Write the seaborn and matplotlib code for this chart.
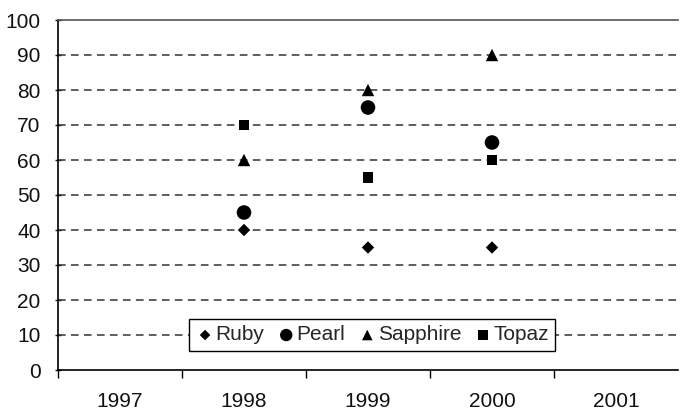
import matplotlib
matplotlib.use("Agg")
import matplotlib.pyplot as plt
import pandas as pd
import seaborn as sns

years = ["1997", "1998", "1999", "2000", "2001"]
data_years = ["1998", "1999", "2000"]
ruby = [40, 35, 35]
pearl = [45, 75, 65]
sapphire = [60, 80, 90]
topaz = [70, 55, 60]
series_names = ["Ruby", "Pearl", "Sapphire", "Topaz"]

rows = []
for name, vals in zip(series_names, [ruby, pearl, sapphire, topaz]):
    for yr, v in zip(data_years, vals):
        rows.append({"pos": years.index(yr), "value": v, "series": name})
df = pd.DataFrame(rows)

sns.set_theme(style="white")
plt.rcParams["font.family"] = ["Liberation Sans", "DejaVu Sans"]

FS = 15

fig = plt.figure(figsize=(6.81, 4.13), dpi=100)
ax = fig.add_axes([58 / 681, 43 / 413, 620 / 681, 350 / 413])

markers = {"Ruby": "D", "Pearl": "o", "Sapphire": "^", "Topaz": "s"}
sizes = {"Ruby": 40, "Pearl": 110, "Sapphire": 80, "Topaz": 60}
for name in series_names:
    sub = df[df["series"] == name]
    sns.scatterplot(data=sub, x="pos", y="value", marker=markers[name],
                    s=sizes[name], color="black", edgecolor="none",
                    linewidth=0, ax=ax, label=name, zorder=3)

ax.set_xlim(-0.5, len(years) - 0.5)
ax.set_ylim(0, 100)
ax.set_yticks(range(0, 101, 10))
ax.set_yticklabels([str(v) for v in range(0, 101, 10)])

# category labels centred, tick marks on category boundaries
ax.set_xticks(range(len(years)))
ax.set_xticklabels(years)
ax.set_xticks([i + 0.5 for i in range(len(years) - 1)] + [-0.5], minor=True)
ax.tick_params(axis="x", which="major", length=0, pad=16, labelsize=FS, colors="#111111")
ax.tick_params(axis="x", which="minor", length=6, width=1, direction="out", color="black", bottom=True)
ax.tick_params(axis="y", which="major", length=5, width=1, direction="inout",
               labelsize=FS, colors="#111111", left=True, pad=10)
ax.set_xlabel("")
ax.set_ylabel("")

for yv in range(10, 100, 10):
    ax.axhline(yv, color="#333333", linestyle=(0, (5, 3.5)), linewidth=1.1, zorder=1)

ax.spines["left"].set_color("black")
ax.spines["left"].set_linewidth(1.2)
ax.spines["bottom"].set_color("black")
ax.spines["bottom"].set_linewidth(1.2)
ax.spines["top"].set_color("#555555")
ax.spines["top"].set_linewidth(1.2)
ax.spines["right"].set_visible(False)
ax.grid(False)

leg = ax.legend(loc="center", bbox_to_anchor=(0.507, 0.1), ncol=4, frameon=True,
                fancybox=False, edgecolor="black", framealpha=1, fontsize=FS,
                handletextpad=0.05, columnspacing=0.6, borderpad=0.3,
                handlelength=0.9, markerscale=0.85)
leg.get_frame().set_linewidth(1.0)
leg.set_zorder(5)

fig.savefig("out.png", dpi=100, facecolor="white")
